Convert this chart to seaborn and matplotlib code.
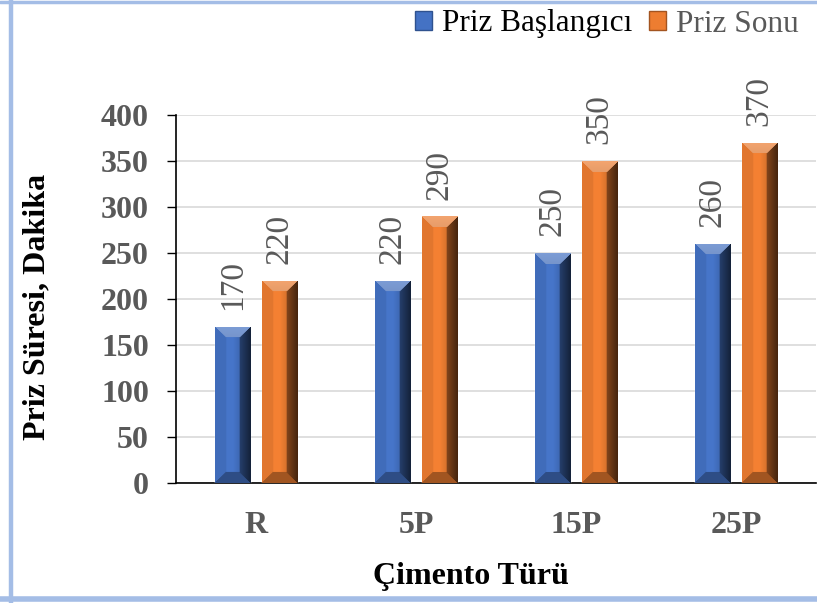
import numpy as np
import pandas as pd
import matplotlib
matplotlib.use("Agg")
import matplotlib.pyplot as plt
import matplotlib.colors as mcolors
from matplotlib.lines import Line2D
from matplotlib.patches import Patch
import seaborn as sns

# Setting-time data per cement type
categories = ["R", "5P", "15P", "25P"]
initial_set = [170, 220, 250, 260]
final_set = [220, 290, 350, 370]
series_names = ["Priz Başlangıcı", "Priz Sonu"]
y_ticks = [0, 50, 100, 150, 200, 250, 300, 350, 400]

df = pd.DataFrame({
    "Çimento": categories * 2,
    "Süre": initial_set + final_set,
    "Seri": [series_names[0]] * len(categories) + [series_names[1]] * len(categories),
})

sns.set_theme(style="white")
plt.rcParams["font.family"] = ["Liberation Serif", "DejaVu Serif"]

blue = "#4472c4"
orange = "#ed7d31"
gray_txt = "#595959"

fig = plt.figure(figsize=(8.17, 6.03), dpi=100)
ax = fig.add_axes([176 / 817, 1 - 483 / 603, 640 / 817, (483 - 115) / 603])

sns.barplot(data=df, x="Çimento", y="Süre", hue="Seri", order=categories,
            hue_order=series_names, palette=[blue, orange], width=0.5875,
            gap=0.255, saturation=1, ax=ax, legend=False, zorder=3)

ax.set_xlim(-0.5, 3.5)
ax.set_ylim(0, 400)
ax.set_yticks(y_ticks)
ax.yaxis.grid(True, color="#d9d9d9", linewidth=1.2, zorder=0)
ax.set_axisbelow(True)
for s in ["top", "right"]:
    ax.spines[s].set_visible(False)
for s in ["left", "bottom"]:
    ax.spines[s].set_color("black")
    ax.spines[s].set_linewidth(1.2)
ax.tick_params(axis="y", which="major", left=True, length=6.5, width=1.0,
               color="black", pad=13)
ax.tick_params(axis="x", bottom=False, pad=14)
for lab in ax.get_yticklabels() + ax.get_xticklabels():
    lab.set_fontweight("bold")
    lab.set_fontsize(23)
    lab.set_color(gray_txt)

ax.set_xlabel("Çimento Türü", fontsize=23, fontweight="bold", color="black")
ax.set_ylabel("Priz Süresi, Dakika", fontsize=23, fontweight="bold", color="black")
ax.xaxis.set_label_coords(0.461, -0.215)
ax.yaxis.set_label_coords(-0.194, 0.478)

fig.canvas.draw()


def bevel_image(color, wpx, hpx, bevel=11):
    base = np.array(mcolors.to_rgb(color))
    light = np.clip(base + (1 - base) * 0.3, 0, 1)
    dark = base * 0.3
    mid_dark = base * 0.68
    img = np.zeros((hpx, wpx, 3))
    for j in range(hpx):
        for i in range(wpx):
            dl, dr = i, wpx - 1 - i
            dt, db = j, hpx - 1 - j
            m = min(dl, dr, dt, db)
            if m >= bevel:
                t = i / max(wpx - 1, 1)
                # gentle darkening towards the right side
                c = base * (1.03 - 0.3 * max(t - 0.5, 0) / 0.5)
            elif m == dt:
                c = light * (1 - 0.05 * dt / bevel)
            elif m == dr:
                c = dark + (mid_dark - dark) * (dr / bevel) * 0.7
            elif m == db:
                c = mid_dark
            else:
                c = base * 0.95
            img[j, i] = np.clip(c, 0, 1)
    return img


# shaded bevel overlay on every bar, plus value labels
colors_by_bar = [blue] * len(categories) + [orange] * len(categories)
values_by_bar = initial_set + final_set
for patch, col, val in zip(ax.patches, colors_by_bar, values_by_bar):
    x0, y0 = patch.get_x(), patch.get_y()
    w, h = patch.get_width(), patch.get_height()
    p0 = ax.transData.transform((x0, y0))
    p1 = ax.transData.transform((x0 + w, y0 + h))
    wpx = max(int(round(p1[0] - p0[0])), 2)
    hpx = max(int(round(p1[1] - p0[1])), 2)
    bev = min(12, wpx // 3)
    img = bevel_image(col, wpx, hpx, bevel=bev)
    im = ax.imshow(img, extent=(x0, x0 + w, y0, y0 + h), origin="upper",
                   aspect="auto", zorder=4, interpolation="bilinear")
    im.set_clip_path(patch)
    ax.text(x0 + w / 2, val + 18, f"{val}", rotation=90, ha="center", va="bottom",
            fontsize=24, color=gray_txt, zorder=5)

ax.set_xlim(-0.5, 3.5)
ax.set_ylim(0, 400)

# legend across the top right
handles = [Patch(facecolor=blue, edgecolor="#2f528f", linewidth=1.0),
           Patch(facecolor=orange, edgecolor="#a35420", linewidth=1.0)]
leg = fig.legend(handles, series_names, loc="center right",
                 bbox_to_anchor=(1.0, 1 - 24 / 603), ncol=2, frameon=False,
                 fontsize=22.5, handlelength=0.55, handleheight=0.55,
                 handletextpad=0.3, columnspacing=0.55, borderaxespad=0.2)
leg.get_texts()[0].set_color("black")
leg.get_texts()[1].set_color(gray_txt)

# light blue frame around the figure
frame_col = "#a4bde6"
fig.add_artist(Line2D([0, 1], [1 - 1.5 / 603] * 2, color=frame_col, lw=2.5, transform=fig.transFigure))
fig.add_artist(Line2D([10.5 / 817] * 2, [0, 1], color=frame_col, lw=3.2, transform=fig.transFigure))
fig.add_artist(Line2D([0, 1], [1 - 599 / 603] * 2, color=frame_col, lw=4.0, transform=fig.transFigure))

fig.savefig("out.png", dpi=100, facecolor="white")
